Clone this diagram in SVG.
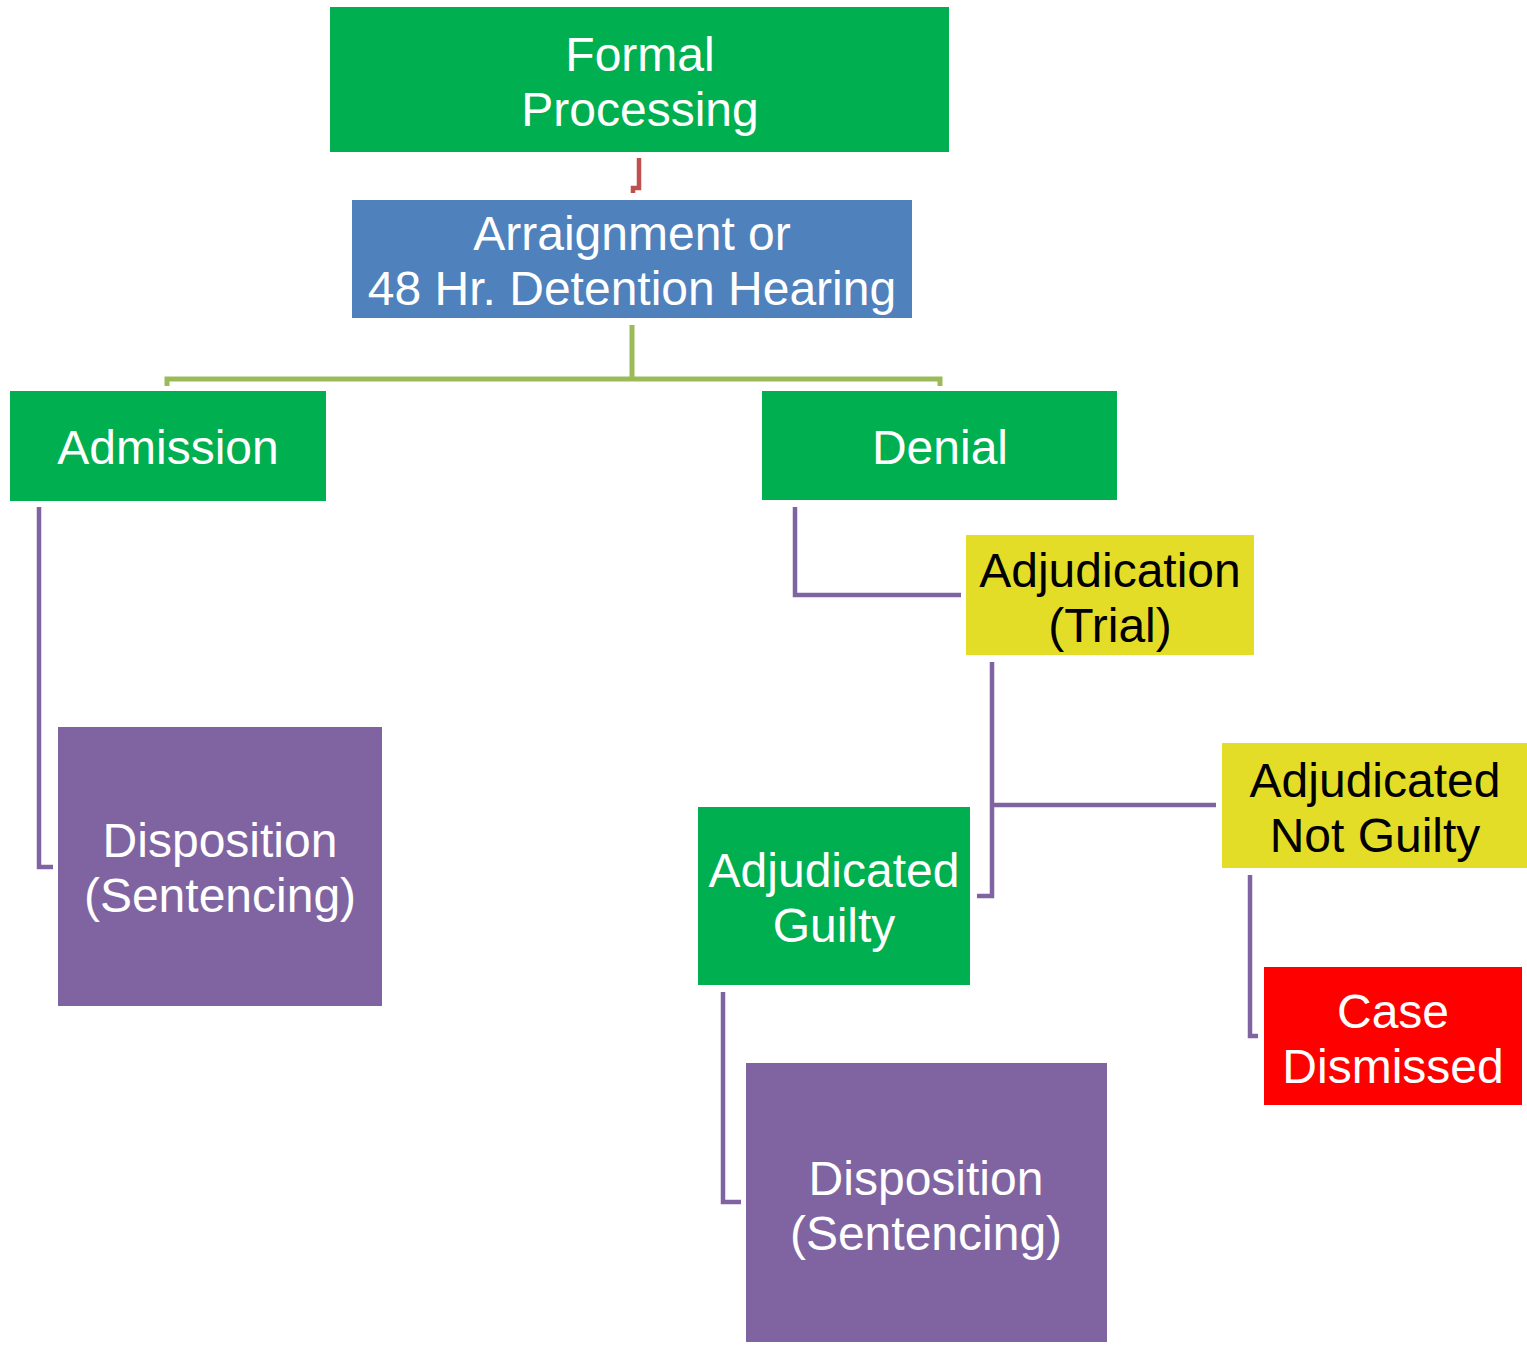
<svg xmlns="http://www.w3.org/2000/svg" width="1527" height="1347" viewBox="0 0 1527 1347">
<style>
text{font-family:"Liberation Sans",Arial,sans-serif;font-size:48px;text-anchor:middle}
.w{fill:#ffffff}
.k{fill:#000000}
.g{fill:#00AF50}
.b{fill:#4F81BD}
.p{fill:#8064A2}
.y{fill:#E4DD28}
.r{fill:#FF0000}
.c{fill:none;stroke-width:4.5;stroke-linejoin:miter;stroke-linecap:butt}
</style>
<rect width="1527" height="1347" fill="#ffffff"/>
<g id="connectors">
<path class="c" stroke="#C0504D" d="M639,158 V188 H633 V193"/>
<path class="c" stroke="#9BBB59" style="stroke-width:5" d="M632,325 V379 M167,386 V379 H940 V386"/>
<path class="c" stroke="#8064A2" d="M39,507 V867 H53"/>
<path class="c" stroke="#8064A2" d="M795,507 V595 H961"/>
<path class="c" stroke="#8064A2" d="M992,662 V896 H977 M992,805 H1216"/>
<path class="c" stroke="#8064A2" d="M723,992 V1202 H741"/>
<path class="c" stroke="#8064A2" d="M1250,875 V1036 H1258"/>
</g>
<g id="formal">
<rect class="g" x="330" y="7" width="619" height="145"/>
<text class="w" x="640" y="71">Formal</text>
<text class="w" x="640" y="126">Processing</text>
</g>
<g id="arraignment">
<rect class="b" x="352" y="200" width="560" height="118"/>
<text class="w" x="632" y="250">Arraignment or</text>
<text class="w" x="632" y="305">48 Hr. Detention Hearing</text>
</g>
<g id="admission">
<rect class="g" x="10" y="391" width="316" height="110"/>
<text class="w" x="168" y="464">Admission</text>
</g>
<g id="denial">
<rect class="g" x="762" y="391" width="355" height="109"/>
<text class="w" x="940" y="464">Denial</text>
</g>
<g id="disposition1">
<rect class="p" x="58" y="727" width="324" height="279"/>
<text class="w" x="220" y="857">Disposition</text>
<text class="w" x="220" y="912">(Sentencing)</text>
</g>
<g id="adjudication">
<rect class="y" x="966" y="535" width="288" height="120"/>
<text class="k" x="1110" y="587">Adjudication</text>
<text class="k" x="1110" y="642">(Trial)</text>
</g>
<g id="notguilty">
<rect class="y" x="1222" y="743" width="305" height="125"/>
<text class="k" x="1375" y="797">Adjudicated</text>
<text class="k" x="1375" y="852">Not Guilty</text>
</g>
<g id="guilty">
<rect class="g" x="698" y="807" width="272" height="178"/>
<text class="w" x="834" y="887">Adjudicated</text>
<text class="w" x="834" y="942">Guilty</text>
</g>
<g id="disposition2">
<rect class="p" x="746" y="1063" width="361" height="279"/>
<text class="w" x="926" y="1195">Disposition</text>
<text class="w" x="926" y="1250">(Sentencing)</text>
</g>
<g id="dismissed">
<rect class="r" x="1264" y="967" width="258" height="138"/>
<text class="w" x="1393" y="1028">Case</text>
<text class="w" x="1393" y="1083">Dismissed</text>
</g>
</svg>
